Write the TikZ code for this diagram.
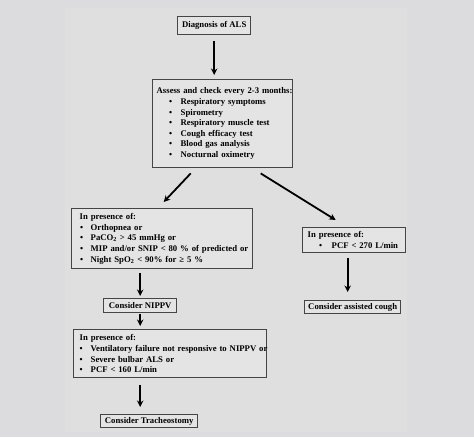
\documentclass[tikz,border=0pt]{standalone}
\usepackage{fontspec}
\setmainfont{Liberation Serif}
\usetikzlibrary{arrows.meta}
\definecolor{bgouter}{HTML}{DCDCDE}
\definecolor{bginner}{HTML}{DFDFE0}
\definecolor{boxfill}{HTML}{E4E4E4}
\definecolor{boxline}{HTML}{454545}
\newcommand{\itm}[3]{\mbox{\hspace*{#1pt}\makebox[0pt][l]{\textbullet}\hspace*{#2pt}#3}}
\begin{document}
\begin{tikzpicture}[x=1pt,y=-1pt,
  box/.style={draw=boxline, fill=boxfill, line width=1.4pt, inner ysep=0pt,
    font=\bfseries\fontsize{8.7}{10.6}\selectfont, align=left, anchor=north west},
  simplebox/.style={draw=boxline, fill=boxfill, line width=1.4pt, inner sep=0pt,
    font=\bfseries\fontsize{8.7}{10.6}\selectfont, anchor=north west, align=center},
  arr/.style={line width=1.8pt, -{Stealth[length=6.5pt,width=6.5pt]}}]
\useasboundingbox (0,0) rectangle (474,437);
\fill[bgouter] (0,0) rectangle (474,437);
\fill[bginner] (65,8) rectangle (407,432);
% boxes
\node[simplebox, minimum width=73pt, minimum height=18pt] (diag) at (177,16) {Diagnosis of ALS};
\node[box, inner xsep=4pt, text width=132pt, minimum height=88pt] (assess) at (152,79)
 {\mbox{Assess and check every 2-3 months:}\\
  \itm{12.5}{11.5}{Respiratory symptoms}\\
  \itm{12.5}{11.5}{Spirometry}\\
  \itm{12.5}{11.5}{Respiratory muscle test}\\
  \itm{12.5}{11.5}{Cough efficacy test}\\
  \itm{12.5}{11.5}{Blood gas analysis}\\
  \itm{12.5}{11.5}{Nocturnal oximetry}};
\node[box, inner xsep=8pt, text width=165pt, minimum height=60pt] (pres1) at (71,208)
 {\mbox{In presence of:}\\
  \itm{0.5}{10.5}{Orthopnea or}\\
  \itm{0.5}{10.5}{PaCO\textsubscript{2} > 45 mmHg or}\\
  \itm{0.5}{10.5}{MIP and/or SNIP < 80 \% of predicted or}\\
  \itm{0.5}{10.5}{Night SpO\textsubscript{2} < 90\% for ≥ 5 \%}};
\node[simplebox, minimum width=73pt, minimum height=14pt] (nippv) at (103,298) {Consider NIPPV};
\node[box, inner xsep=6pt, text width=181pt, minimum height=48pt] (pres2) at (73,329)
 {\mbox{In presence of:}\\
  \itm{0}{11}{Ventilatory failure not responsive to NIPPV or}\\
  \itm{0}{11}{Severe bulbar ALS or}\\
  \itm{0}{11}{PCF < 160 L/min}};
\node[simplebox, minimum width=97pt, minimum height=12.5pt] (trach) at (100,414) {Consider Tracheostomy};
\node[box, inner xsep=5pt, text width=93pt, minimum height=25pt] (pres3) at (302,227)
 {\mbox{In presence of:}\\
  \itm{11.5}{12.5}{PCF < 270 L/min}};
\node[simplebox, minimum width=96pt, minimum height=13pt] (cough) at (304,300) {Consider assisted cough};
% arrows
\draw[arr, shorten <=6pt, shorten >=4pt] (diag.south) -- (diag.south |- assess.north);
\draw[arr] ([xshift=-32pt,yshift=-5pt]assess.south) -- ([xshift=1.5pt,yshift=6pt]pres1.north);
\draw[arr] ([xshift=38pt,yshift=-5pt]assess.south) -- ([xshift=-18.5pt,yshift=7pt]pres3.north);
\draw[arr, shorten <=4pt, shorten >=2pt] (pres1.south -| nippv.north) -- (nippv.north);
\draw[arr, shorten <=1pt, shorten >=3pt] (nippv.south) -- (nippv.south |- pres2.north);
\draw[arr, shorten <=7pt, shorten >=7pt] (pres2.south -| nippv.south) -- (trach.north -| nippv.south);
\draw[arr, shorten <=5pt, shorten >=8pt] ([xshift=-6.5pt]pres3.south) -- ([xshift=-6.5pt]pres3.south |- cough.north);
\end{tikzpicture}
\end{document}
